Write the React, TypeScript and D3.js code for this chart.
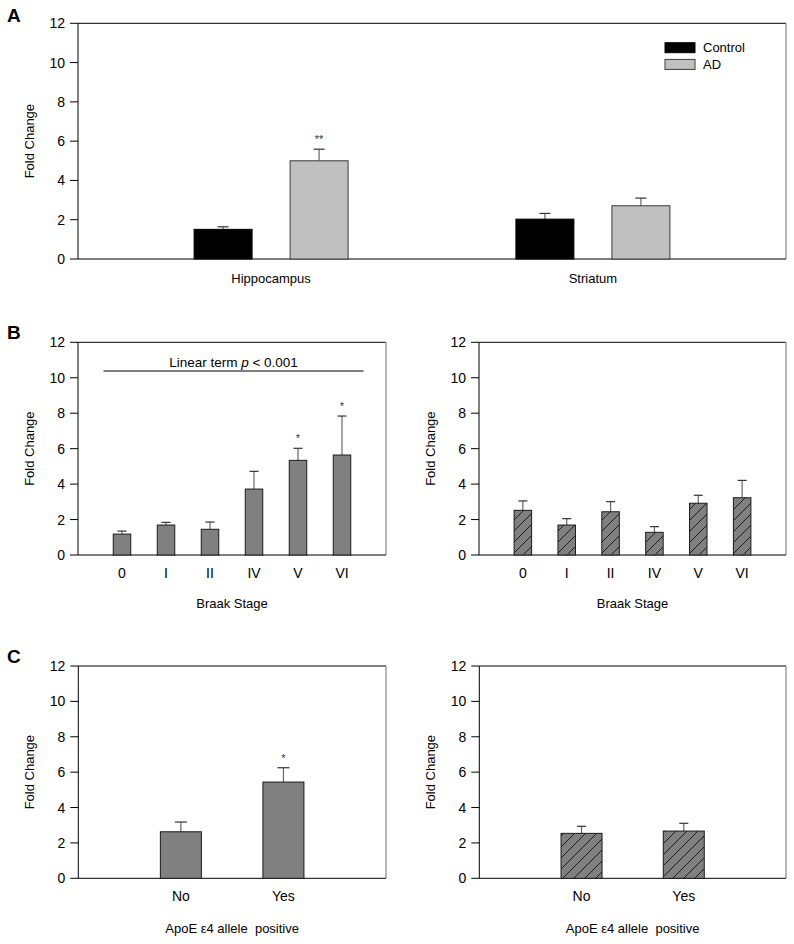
import React from "react";
import * as d3 from "d3";

// ---------- DATA ----------
const regions = ["Hippocampus", "Striatum"];
const groups = ["Control", "AD"];
const regionControl = [1.51, 2.03];
const regionControlErr = [1.64, 2.32];
const regionAD = [5.0, 2.71];
const regionADErr = [5.59, 3.1];
const regionADStars = ["**", ""];

const braakStages = ["0", "I", "II", "IV", "V", "VI"];
const braakHippo = [1.18, 1.69, 1.45, 3.72, 5.34, 5.64];
const braakHippoErr = [1.35, 1.84, 1.86, 4.72, 6.02, 7.84];
const braakHippoStars = ["", "", "", "", "*", "*"];
const braakStriatum = [2.52, 1.69, 2.44, 1.28, 2.92, 3.23];
const braakStriatumErr = [3.05, 2.05, 3.01, 1.6, 3.37, 4.21];
const linearTermLevel = 10.38;

const apoeCats = ["No", "Yes"];
const apoeHippo = [2.63, 5.44];
const apoeHippoErr = [3.18, 6.25];
const apoeHippoStars = ["", "*"];
const apoeStriatum = [2.54, 2.67];
const apoeStriatumErr = [2.94, 3.11];

const yTicks = [0, 2, 4, 6, 8, 10, 12];
const yDomain = [0, 12];

const FONT = "'Liberation Sans', Arial, Helvetica, sans-serif";

type Frame = { left: number; right: number; top: number; bottom: number };

function Axes({ f, y }: { f: Frame; y: d3.ScaleLinear<number, number> }) {
  return (
    <g>
      {/* frame */}
      <line x1={f.left} x2={f.right} y1={f.top} y2={f.top} stroke="#000" strokeWidth={1} />
      <line x1={f.right} x2={f.right} y1={f.top} y2={f.bottom} stroke="#8a8a8a" strokeWidth={1.2} />
      <line x1={f.left} x2={f.left} y1={f.top} y2={f.bottom} stroke="#000" strokeWidth={1} />
      <line x1={f.left} x2={f.right} y1={f.bottom} y2={f.bottom} stroke="#000" strokeWidth={1} />
      {yTicks.map((t) => (
        <g key={t}>
          <line x1={f.left - 8} x2={f.left} y1={y(t)} y2={y(t)} stroke="#000" strokeWidth={1} />
          <text
            x={f.left - 13}
            y={y(t)}
            dy="0.36em"
            textAnchor="end"
            fontSize={14}
            fontFamily={FONT}
            fill="#000"
          >
            {t}
          </text>
        </g>
      ))}
      <text
        transform={`translate(${f.left - 44},${(f.top + f.bottom) / 2}) rotate(-90)`}
        textAnchor="middle"
        fontSize={13}
        fontFamily={FONT}
        fill="#000"
      >
        Fold Change
      </text>
    </g>
  );
}

function ErrBar({ x, y0, y1, cap }: { x: number; y0: number; y1: number; cap: number }) {
  return (
    <g>
      <line x1={x} x2={x} y1={y0} y2={y1} stroke="#666" strokeWidth={1.2} />
      <line x1={x - cap / 2} x2={x + cap / 2} y1={y1} y2={y1} stroke="#333" strokeWidth={1.2} />
    </g>
  );
}

function SimplePanel({
  f,
  cats,
  vals,
  errs,
  stars,
  padding,
  barW,
  cap,
  hatched,
  tickBaseline,
  title,
  titleBaseline,
}: {
  f: Frame;
  cats: string[];
  vals: number[];
  errs: number[];
  stars?: string[];
  padding: number;
  barW: number;
  cap: number;
  hatched: boolean;
  tickBaseline: number;
  title: string;
  titleBaseline: number;
}) {
  const y = d3.scaleLinear().domain(yDomain).range([f.bottom, f.top]);
  const x = d3.scalePoint<string>().domain(cats).range([f.left, f.right]).padding(padding);
  return (
    <g>
      <Axes f={f} y={y} />
      {cats.map((c, i) => {
        const cx = x(c)!;
        return (
          <g key={c}>
            <ErrBar x={cx} y0={y(vals[i])} y1={y(errs[i])} cap={cap} />
            <rect
              x={cx - barW / 2}
              y={y(vals[i])}
              width={barW}
              height={y(0) - y(vals[i])}
              fill={hatched ? "url(#hatch)" : "#808080"}
              stroke="#1a1a1a"
              strokeWidth={1}
            />
            {stars && stars[i] ? (
              <text
                x={cx}
                y={y(errs[i]) - 6}
                textAnchor="middle"
                fontSize={11}
                fontFamily={FONT}
                fill="#333"
              >
                {stars[i]}
              </text>
            ) : null}
            <text
              x={cx}
              y={tickBaseline}
              textAnchor="middle"
              fontSize={14}
              fontFamily={FONT}
              fill="#000"
            >
              {c}
            </text>
          </g>
        );
      })}
      <text
        x={(f.left + f.right) / 2}
        y={titleBaseline}
        textAnchor="middle"
        fontSize={13}
        fontFamily={FONT}
        fill="#000"
        style={{ whiteSpace: "pre" }}
      >
        {title}
      </text>
    </g>
  );
}

function PanelA() {
  const f: Frame = { left: 78, right: 786, top: 23.3, bottom: 259 };
  const y = d3.scaleLinear().domain(yDomain).range([f.bottom, f.top]);
  const x = d3.scalePoint<string>().domain(regions).range([f.left, f.right]).padding(0.6);
  const inner = d3.scaleBand<string>().domain(groups).range([-77, 77]).paddingInner(0.396).paddingOuter(0);
  const bw = inner.bandwidth();
  const series = [
    { key: "Control", vals: regionControl, errs: regionControlErr, fill: "#000", stroke: "#000", stars: ["", ""] },
    { key: "AD", vals: regionAD, errs: regionADErr, fill: "#c0c0c0", stroke: "#3a3a3a", stars: regionADStars },
  ];
  return (
    <g>
      <Axes f={f} y={y} />
      {regions.map((r, i) => (
        <g key={r}>
          {series.map((s) => {
            const x0 = x(r)! + inner(s.key)!;
            const cx = x0 + bw / 2;
            return (
              <g key={s.key}>
                <ErrBar x={cx} y0={y(s.vals[i])} y1={y(s.errs[i])} cap={11} />
                <rect
                  x={x0}
                  y={y(s.vals[i])}
                  width={bw}
                  height={y(0) - y(s.vals[i])}
                  fill={s.fill}
                  stroke={s.stroke}
                  strokeWidth={1}
                />
                {s.stars[i] ? (
                  <text x={cx} y={y(s.errs[i]) - 6} textAnchor="middle" fontSize={11} fontFamily={FONT} fill="#333">
                    {s.stars[i]}
                  </text>
                ) : null}
              </g>
            );
          })}
          <text x={x(r)!} y={282.5} textAnchor="middle" fontSize={13} fontFamily={FONT} fill="#000">
            {r}
          </text>
        </g>
      ))}
      {/* legend */}
      {series.map((s, i) => (
        <g key={s.key} transform={`translate(665,${42.7 + i * 16.7})`}>
          <rect x={0} y={0} width={30} height={10} fill={s.fill} stroke={s.stroke} strokeWidth={1} />
          <text x={38} y={5} dy="0.36em" fontSize={13} fontFamily={FONT} fill="#000">
            {s.key}
          </text>
        </g>
      ))}
    </g>
  );
}

function PanelBLeftExtras() {
  const f: Frame = { left: 78, right: 386, top: 342.3, bottom: 555 };
  const y = d3.scaleLinear().domain(yDomain).range([f.bottom, f.top]);
  const x = d3.scalePoint<string>().domain(braakStages).range([f.left, f.right]).padding(1);
  const x1 = x(braakStages[0])! - 18.5;
  const x2 = x(braakStages[braakStages.length - 1])! + 21.5;
  return (
    <g>
      <line x1={x1} x2={x2} y1={y(linearTermLevel)} y2={y(linearTermLevel)} stroke="#000" strokeWidth={1} />
      <text
        x={(x1 + x2) / 2}
        y={y(linearTermLevel) - 4.5}
        textAnchor="middle"
        fontSize={13.5}
        fontFamily={FONT}
        fill="#000"
      >
        Linear term <tspan fontStyle="italic">p</tspan> {"< 0.001"}
      </text>
    </g>
  );
}

export default function App() {
  const fBL: Frame = { left: 78, right: 386, top: 342.3, bottom: 555 };
  const fBR: Frame = { left: 479, right: 786, top: 342.3, bottom: 555 };
  const fCL: Frame = { left: 78.3, right: 386, top: 666, bottom: 878.3 };
  const fCR: Frame = { left: 479.3, right: 786, top: 666, bottom: 878.3 };
  return (
    <svg
      width={794}
      height={944}
      viewBox="0 0 794 944"
      style={{ position: "absolute", left: 0, top: 0, background: "#fff" }}
    >
      <defs>
        <pattern id="hatch" patternUnits="userSpaceOnUse" width={11} height={11}>
          <rect width={11} height={11} fill="#808080" />
          <path d="M0,11 L11,0 M-2,2 L2,-2 M9,13 L13,9" stroke="#111" strokeWidth={0.9} />
        </pattern>
      </defs>
      <rect x={0} y={0} width={794} height={944} fill="#fff" />
      <text x={7} y={22} fontSize={19} fontWeight="bold" fontFamily={FONT}>A</text>
      <text x={7} y={339} fontSize={19} fontWeight="bold" fontFamily={FONT}>B</text>
      <text x={7} y={663} fontSize={19} fontWeight="bold" fontFamily={FONT}>C</text>

      <PanelA />

      <SimplePanel
        f={fBL}
        cats={braakStages}
        vals={braakHippo}
        errs={braakHippoErr}
        stars={braakHippoStars}
        padding={1}
        barW={17.5}
        cap={9}
        hatched={false}
        tickBaseline={578}
        title="Braak Stage"
        titleBaseline={608}
      />
      <PanelBLeftExtras />
      <SimplePanel
        f={fBR}
        cats={braakStages}
        vals={braakStriatum}
        errs={braakStriatumErr}
        padding={1}
        barW={17.5}
        cap={9}
        hatched={true}
        tickBaseline={578}
        title="Braak Stage"
        titleBaseline={608}
      />
      <SimplePanel
        f={fCL}
        cats={apoeCats}
        vals={apoeHippo}
        errs={apoeHippoErr}
        stars={apoeHippoStars}
        padding={1}
        barW={41}
        cap={12}
        hatched={false}
        tickBaseline={901}
        title={"ApoE \u03b54 allele  positive"}
        titleBaseline={933}
      />
      <SimplePanel
        f={fCR}
        cats={apoeCats}
        vals={apoeStriatum}
        errs={apoeStriatumErr}
        padding={1}
        barW={41}
        cap={9}
        hatched={true}
        tickBaseline={901}
        title={"ApoE \u03b54 allele  positive"}
        titleBaseline={933}
      />
    </svg>
  );
}
